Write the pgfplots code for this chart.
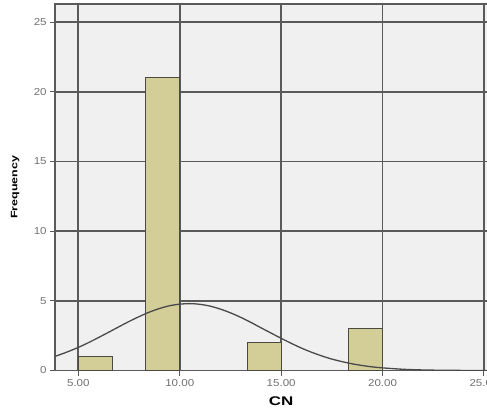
\documentclass[border=0pt]{standalone}
\usepackage{fontspec}
\setmainfont{Liberation Sans}
\usepackage{graphicx}
\usepackage{pgfplots}
\pgfplotsset{compat=1.18}
\definecolor{bg}{HTML}{F0F0F0}
\definecolor{gridc}{HTML}{5A5A5A}
\definecolor{barc}{HTML}{D3CE98}
\definecolor{bard}{HTML}{4A4A40}
\definecolor{tickc}{HTML}{707070}
\definecolor{curvec}{HTML}{4A4A4A}
\newcommand{\tl}[1]{\scalebox{1.15}[1]{#1}}
\begin{document}
\begin{tikzpicture}
\begin{axis}[
  scale only axis, width=450pt, height=365pt,
  xmin=3.86, xmax=26.14, ymin=0, ymax=26.3,
  axis background/.style={fill=bg},
  xtick={5,10,15,20,25}, ytick={0,5,10,15,20,25},
  xticklabels={\tl{5.00},\tl{10.00},\tl{15.00},\tl{20.00},\tl{25.00}},
  yticklabels={\tl{0},\tl{5},\tl{10},\tl{15},\tl{20},\tl{25}},
  grid=major, major grid style={gridc, line width=1.7pt},
  axis line style={gridc, line width=1.7pt},
  tick pos=left, tick align=outside, major tick length=5pt,
  tick style={gridc, line width=1pt},
  ticklabel style={font=\fontsize{10}{11}\selectfont, text=tickc},
  xlabel={\scalebox{1.35}[1]{CN}}, ylabel={\scalebox{1}[0.75]{Frequency}},
  xlabel style={font=\fontsize{12.5}{14}\selectfont\bfseries, at={(axis description cs:0.5,-0.085)}, anchor=center},
  ylabel style={font=\fontsize{12.4}{14}\selectfont\bfseries, at={(axis description cs:-0.089,0.5)}, anchor=center},
]
\addplot[ybar, bar width=1.6667, fill=barc, draw=bard, line width=1pt]
  coordinates {(5.8333,1) (9.1667,21) (14.1667,2) (19.1667,3)};
\addplot[smooth, line width=1.3pt, color=curvec] coordinates {
(3.86,1.02) (4,1.09) (4.5,1.36) (5,1.66) (5.5,2.00) (6,2.37) (6.5,2.75) (7,3.14) (7.5,3.52) (8,3.87) (8.5,4.19) (9,4.45) (9.5,4.65) (10,4.76) (10.5,4.80) (11,4.75) (11.5,4.62) (12,4.41) (12.5,4.14) (13,3.82) (13.5,3.46) (14,3.07) (14.5,2.69) (15,2.31) (15.5,1.95) (16,1.61) (16.5,1.31) (17,1.05) (17.5,0.82) (18,0.64) (18.5,0.48) (19,0.36) (19.5,0.26) (20,0.19) (21,0.09) (22,0.04) (23,0.018) (24,0.007) (25,0.002) (26.14,0.0005)
};
\coordinate (sw) at (rel axis cs:0,0);
\coordinate (ne) at (rel axis cs:1,1);
\end{axis}
\pgfresetboundingbox
\path[use as bounding box] ([xshift=-55pt,yshift=-43pt]sw) rectangle ([xshift=-20pt,yshift=4pt]ne);
\end{tikzpicture}
\end{document}
